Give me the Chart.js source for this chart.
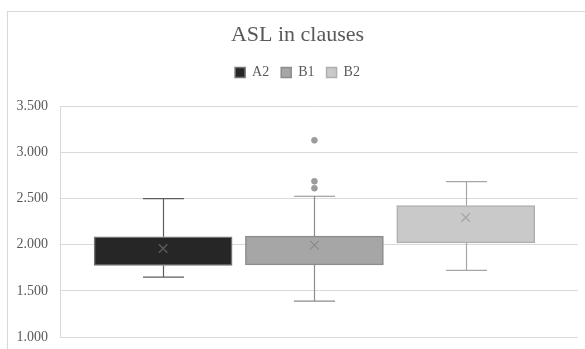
<!DOCTYPE html>
<html>
<head>
<meta charset="utf-8">
<script src="https://cdn.jsdelivr.net/npm/chart.js@4/dist/chart.umd.min.js"></script>
<style>
  html, body { margin: 0; padding: 0; background: #ffffff; }
  #wrap { width: 585px; height: 349px; }
</style>
</head>
<body>
<div id="wrap"><canvas id="c" width="585" height="349"></canvas></div>
<script>
// ASL (average sentence length) in clauses, by proficiency level
const groups     = ['A2', 'B1', 'B2'];
const groupIndex = [1, 2, 3];
const whiskerLow = [1.649, 1.390, 1.722];
const quartile1  = [1.776, 1.782, 2.021];
const medians    = [1.966, 1.927, 2.331];
const quartile3  = [2.086, 2.093, 2.425];
const whiskerHigh= [2.500, 2.526, 2.685];
const means      = [1.960, 1.996, 2.295];
const outliers   = [[], [2.613, 2.688, 3.132], []];
const yTicks     = [1.0, 1.5, 2.0, 2.5, 3.0, 3.5];

const fills  = ['#262626', '#a6a6a6', '#c9c9c9'];
const edges  = ['#737373', '#8c8c8c', '#afafaf'];
const strokes= ['#5d5d5d', '#8c8c8c', '#a6a6a6'];

const serif = '"Liberation Serif", "Times New Roman", serif';

const boxDatasets = groups.map((g, i) => ({
  type: 'bar',
  label: g,
  order: 2,
  data: [{ x: groupIndex[i], y: [quartile1[i], quartile3[i]] }],
  backgroundColor: fills[i],
  borderColor: edges[i],
  borderWidth: 1.5,
  borderSkipped: false,
  barThickness: 138,
  grouped: false
}));

const meanDatasets = groups.map((g, i) => ({
  type: 'scatter',
  label: 'mean ' + g,
  order: 0,
  data: [{ x: groupIndex[i], y: means[i] }],
  pointStyle: 'crossRot',
  pointRadius: 6,
  borderColor: strokes[i],
  borderWidth: 1.3,
  backgroundColor: strokes[i]
}));

const outlierDatasets = groups.map((g, i) => ({
  type: 'scatter',
  label: 'outliers ' + g,
  order: 0,
  data: outliers[i].map(v => ({ x: groupIndex[i], y: v })),
  pointStyle: 'circle',
  pointRadius: 3,
  borderColor: '#8f8f8f',
  borderWidth: 0.5,
  backgroundColor: '#9c9c9c'
}));

// whiskers behind the boxes, median lines on top
const boxPlotLines = {
  id: 'boxPlotLines',
  beforeDatasetsDraw(chart) {
    const ctx = chart.ctx, ys = chart.scales.y;
    groups.forEach((g, i) => {
      const bar = chart.getDatasetMeta(i).data[0];
      if (!bar) return;
      const x = Math.round(bar.x) + 0.5;
      const cap = 20.5;
      const yHi = ys.getPixelForValue(whiskerHigh[i]);
      const yQ3 = ys.getPixelForValue(quartile3[i]);
      const yLo = ys.getPixelForValue(whiskerLow[i]);
      const yQ1 = ys.getPixelForValue(quartile1[i]);
      ctx.save();
      ctx.strokeStyle = strokes[i];
      ctx.lineWidth = 1.2;
      ctx.beginPath();
      ctx.moveTo(x, yHi); ctx.lineTo(x, yQ3);
      ctx.moveTo(x, yQ1); ctx.lineTo(x, yLo);
      ctx.moveTo(x - cap, yHi); ctx.lineTo(x + cap, yHi);
      ctx.moveTo(x - cap, yLo); ctx.lineTo(x + cap, yLo);
      ctx.stroke();
      ctx.restore();
    });
  },
  afterDatasetsDraw(chart) {
    const ctx = chart.ctx, ys = chart.scales.y;
    groups.forEach((g, i) => {
      const bar = chart.getDatasetMeta(i).data[0];
      if (!bar) return;
      const half = bar.width / 2;
      const y = ys.getPixelForValue(medians[i]);
      ctx.save();
      ctx.strokeStyle = edges[i];
      ctx.lineWidth = 1.5;
      ctx.beginPath();
      ctx.moveTo(bar.x - half, y); ctx.lineTo(bar.x + half, y);
      ctx.stroke();
      ctx.restore();
    });
  }
};

// extra space between the legend row and the plot
const legendGap = {
  id: 'legendGap',
  beforeLayout(chart) {
    const legend = chart.legend;
    if (legend && !legend._gapPatched) {
      const fit = legend.fit;
      legend.fit = function () {
        fit.call(this);
        this.height += 17;
      };
      legend._gapPatched = true;
    }
  }
};

// outer chart frame
const chartFrame = {
  id: 'chartFrame',
  beforeDraw(chart) {
    const ctx = chart.ctx;
    ctx.save();
    ctx.fillStyle = '#ffffff';
    ctx.fillRect(0, 0, chart.width, chart.height);
    ctx.strokeStyle = '#d9d9d9';
    ctx.lineWidth = 1;
    ctx.strokeRect(7.5, 11.5, chart.width + 20, chart.height + 20);
    ctx.restore();
  }
};

new Chart(document.getElementById('c'), {
  type: 'bar',
  data: {
    datasets: [...meanDatasets, ...outlierDatasets, ...boxDatasets]
  },
  options: {
    responsive: false,
    animation: false,
    events: [],
    layout: { padding: { left: 16, right: 6, top: 12, bottom: 12 } },
    plugins: {
      title: {
        display: true,
        text: 'ASL in clauses',
        color: '#595959',
        font: { family: serif, size: 22, weight: 'normal' },
        padding: { top: 10, bottom: 5 }
      },
      legend: {
        display: true,
        position: 'top',
        labels: {
          filter: item => groups.includes(item.text),
          color: '#595959',
          font: { family: serif, size: 14 },
          boxWidth: 10,
          boxHeight: 10,
          padding: 12
        }
      },
      tooltip: { enabled: false }
    },
    scales: {
      x: {
        type: 'linear',
        min: 0.3186,
        max: 3.7401,
        offset: false,
        display: false
      },
      y: {
        min: 1,
        max: 3.5,
        afterBuildTicks(scale) { scale.ticks = yTicks.map(v => ({ value: v })); },
        afterFit(scale) { scale.width = 44; scale.paddingBottom = 0; },
        grid: { color: '#d9d9d9', lineWidth: 1, drawTicks: false },
        border: { display: true, color: '#d9d9d9' },
        ticks: {
          padding: 12,
          color: '#595959',
          font: { family: serif, size: 14 },
          callback: v => Number(v).toFixed(3)
        }
      }
    }
  },
  plugins: [chartFrame, legendGap, boxPlotLines]
});
</script>
</body>
</html>
